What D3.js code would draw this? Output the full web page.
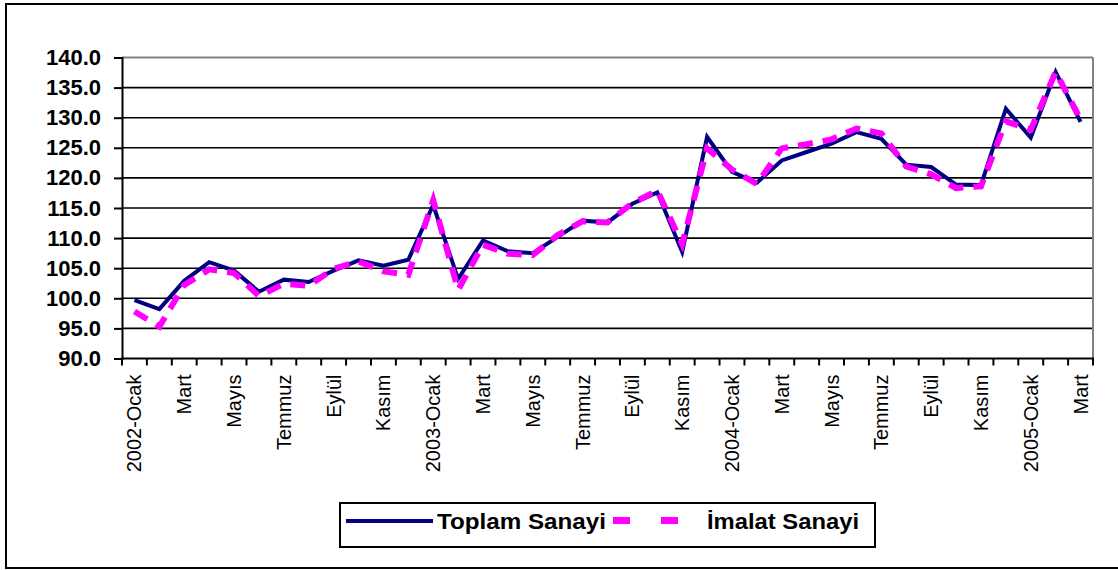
<!DOCTYPE html>
<html lang="tr">
<head>
<meta charset="UTF-8">
<title>Toplam ve İmalat Sanayi</title>
<script src="https://d3js.org/d3.v7.min.js"></script>
<style>
    body { margin: 0; background: #fff; }
    text { font-family: "Liberation Sans", Arial, sans-serif; fill: #000; }
</style>
</head>
<body>
<div id="chart"></div>
<script>
    // month names, every other one is shown on the axis
    const monthNames = ["Ocak", "Şubat", "Mart", "Nisan", "Mayıs", "Haziran",
        "Temmuz", "Ağustos", "Eylül", "Ekim", "Kasım", "Aralık"];

    // 2002-Ocak .. 2005-Mart (39 months)
    const categories = [];
    for (let y = 2002; y <= 2005; y++) {
        for (let m = 0; m < 12; m++) {
            if (y === 2005 && m > 2) break;
            categories.push(m === 0 ? y + "-" + monthNames[m] : monthNames[m]);
        }
    }

    const toplamSanayi = [99.7, 98.2, 102.9, 106.0, 104.6, 101.1, 103.1, 102.7, 104.6, 106.3, 105.4, 106.4,
        115.5, 103.2, 109.6, 107.8, 107.5, 110.2, 112.9, 112.6, 115.7, 117.6, 107.7, 126.8,
        121.0, 119.2, 122.9, 124.3, 125.7, 127.6, 126.5, 122.2, 121.8, 118.9, 118.8, 131.5,
        126.7, 137.6, 129.3];

    const imalatSanayi = [97.8, 95.3, 102.2, 104.8, 104.2, 100.4, 102.4, 102.1, 104.9, 106.1, 104.5, 103.9,
        116.3, 101.4, 108.9, 107.4, 107.2, 110.5, 112.8, 112.6, 115.8, 117.9, 109.0, 124.9,
        121.4, 119.0, 124.9, 125.6, 126.4, 128.2, 127.4, 121.9, 120.6, 118.3, 118.6, 129.4,
        128.0, 137.6, 129.7];

    const yTicks = [90, 95, 100, 105, 110, 115, 120, 125, 130, 135, 140];

    const width = 1118, height = 570;
    const plot = { left: 122, right: 1093, top: 57.5, bottom: 358.5 };

    const svg = d3.select("#chart").append("svg")
        .attr("width", width)
        .attr("height", height);

    // outer frame
    svg.append("rect")
        .attr("x", 6).attr("y", 4)
        .attr("width", 1120).attr("height", 564)
        .attr("fill", "#fff")
        .attr("stroke", "#000")
        .attr("stroke-width", 2);

    // band per month (index domain because month names repeat)
    const x = d3.scaleBand()
        .domain(d3.range(categories.length))
        .range([plot.left, plot.right]);

    const y = d3.scaleLinear()
        .domain([90, 140])
        .range([plot.bottom, plot.top]);

    // gridlines
    svg.append("g")
        .selectAll("line")
        .data(yTicks.slice(1))
        .enter()
        .append("line")
        .attr("x1", plot.left).attr("x2", plot.right)
        .attr("y1", d => y(d)).attr("y2", d => y(d))
        .attr("stroke", d => d === 140 ? "#808080" : "#000")
        .attr("stroke-width", d => d === 140 ? 2 : 1.6);

    // right border of plot area
    svg.append("line")
        .attr("x1", plot.right).attr("x2", plot.right)
        .attr("y1", plot.top).attr("y2", plot.bottom)
        .attr("stroke", "#808080")
        .attr("stroke-width", 2);

    // y axis
    const yAxis = svg.append("g")
        .attr("transform", `translate(${plot.left},0)`)
        .call(d3.axisLeft(y).tickValues(yTicks).tickFormat(d3.format(".1f")).tickSize(8).tickPadding(13));
    yAxis.select(".domain").attr("stroke", "#000").attr("stroke-width", 2);
    yAxis.selectAll(".tick line").attr("stroke", "#000").attr("stroke-width", 2);
    yAxis.selectAll("text")
        .attr("font-size", 22)
        .attr("font-weight", "bold")
        .attr("font-family", "Liberation Sans, Arial, sans-serif")
        .attr("fill", "#000");

    // x axis: ticks at category boundaries
    const boundaries = d3.range(categories.length + 1).map(i => plot.left + i * x.step());
    svg.append("g")
        .selectAll("line")
        .data(boundaries)
        .enter()
        .append("line")
        .attr("x1", d => d).attr("x2", d => d)
        .attr("y1", plot.bottom).attr("y2", plot.bottom + 7)
        .attr("stroke", "#000")
        .attr("stroke-width", 2);

    svg.append("line")
        .attr("x1", plot.left - 1).attr("x2", plot.right + 1)
        .attr("y1", plot.bottom).attr("y2", plot.bottom)
        .attr("stroke", "#000")
        .attr("stroke-width", 2);

    svg.append("g")
        .selectAll("text")
        .data(d3.range(0, categories.length, 2))
        .enter()
        .append("text")
        .attr("transform", i => `translate(${x(i) + x.bandwidth() / 2 + 7},${plot.bottom + 16}) rotate(-90)`)
        .attr("text-anchor", "end")
        .attr("font-size", 20)
        .attr("font-weight", "normal")
        .text(i => categories[i]);

    // lines
    const line = d3.line()
        .x((d, i) => x(i) + x.bandwidth() / 2)
        .y(d => y(d));

    svg.append("path")
        .datum(toplamSanayi)
        .attr("fill", "none")
        .attr("stroke", "#000080")
        .attr("stroke-width", 4)
        .attr("stroke-linejoin", "miter")
        .attr("d", line);

    svg.append("path")
        .datum(imalatSanayi)
        .attr("fill", "none")
        .attr("stroke", "#FF00FF")
        .attr("stroke-width", 6)
        .attr("stroke-dasharray", "15,10")
        .attr("d", line);

    // legend
    const legend = svg.append("g");
    legend.append("rect")
        .attr("x", 340).attr("y", 503)
        .attr("width", 535).attr("height", 44)
        .attr("fill", "#fff")
        .attr("stroke", "#000")
        .attr("stroke-width", 2);

    legend.append("line")
        .attr("x1", 346).attr("x2", 433)
        .attr("y1", 521).attr("y2", 521)
        .attr("stroke", "#000080")
        .attr("stroke-width", 4);

    legend.append("text")
        .attr("x", 437).attr("y", 529)
        .attr("font-size", 22)
        .attr("font-weight", "bold")
        .attr("textLength", 169)
        .attr("lengthAdjust", "spacingAndGlyphs")
        .text("Toplam Sanayi");

    legend.selectAll(".dash")
        .data([613, 661])
        .enter()
        .append("rect")
        .attr("class", "dash")
        .attr("x", d => d).attr("y", 517)
        .attr("width", 17).attr("height", 7)
        .attr("fill", "#FF00FF");

    legend.append("text")
        .attr("x", 707).attr("y", 529)
        .attr("font-size", 22)
        .attr("font-weight", "bold")
        .attr("textLength", 152)
        .attr("lengthAdjust", "spacingAndGlyphs")
        .text("İmalat Sanayi");
</script>
</body>
</html>
